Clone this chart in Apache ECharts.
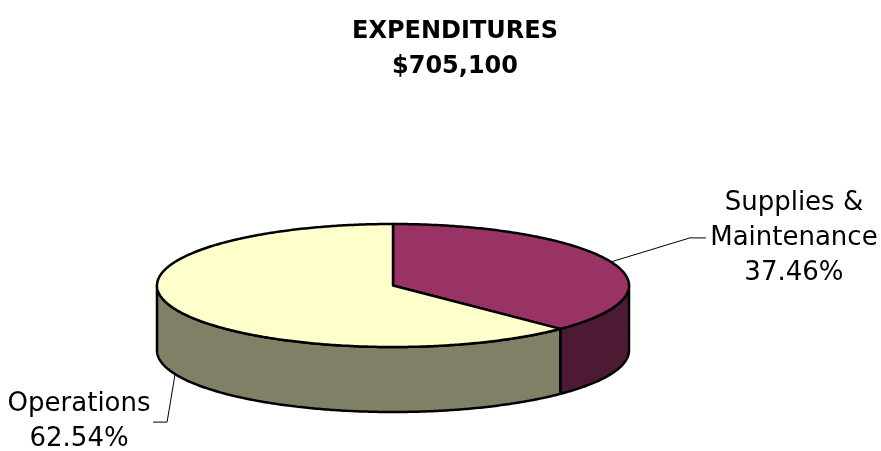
<!DOCTYPE html>
<html>
<head>
<meta charset="utf-8">
<script src="https://cdn.jsdelivr.net/npm/echarts@6/dist/echarts.min.js"></script>
<style>
html,body{margin:0;padding:0;background:#fff;}
#main{width:881px;height:451px;}
</style>
</head>
<body>
<div id="main"></div>
<script>
// ---- data ----
const categories = ['Supplies & Maintenance', 'Operations'];
const labelNames = ['Supplies &\nMaintenance', 'Operations'];
const values = [264130, 440970];
const titleText = 'EXPENDITURES';

// ---- styles / layout ----
const topColors = ['#993366', '#FFFFCC'];
const sideColors = ['#4D1A33', '#808066'];
const pieLayout = { cx: 393, cy: 285.5, rx: 236, ry: 61.5, depth: 65 };
// leader: [elbow dx, elbow dy, horizontal length, text center dx]
const leaderLayout = [[79, -24, 16, 88], [-8, 48, -14, -74]];

const total = values.reduce((a, b) => a + b, 0);
const fontFam = '"DejaVu Sans", sans-serif';

function pt(t, dy) {
  return [pieLayout.cx + pieLayout.rx * Math.sin(t),
          pieLayout.cy - pieLayout.ry * Math.cos(t) + (dy || 0)];
}
function arc(a, b, dy) {
  const pts = [];
  const n = Math.max(2, Math.ceil(Math.abs(b - a) / 0.01));
  for (let i = 0; i <= n; i++) pts.push(pt(a + (b - a) * i / n, dy));
  return pts;
}

function renderItem(params, api) {
  const idx = params.dataIndex;
  const v = api.value(0);
  let before = 0;
  for (let i = 0; i < idx; i++) before += values[i];
  const a0 = before / total * Math.PI * 2;
  const a1 = (before + v) / total * Math.PI * 2;
  const children = [];
  const stroke = { stroke: '#000', lineWidth: 2.5, lineJoin: 'round' };

  // side wall (front half only)
  const wa = Math.max(a0, Math.PI / 2), wb = Math.min(a1, Math.PI * 1.5);
  if (wb > wa) {
    const top = arc(wa, wb, 0);
    const bot = arc(wb, wa, pieLayout.depth);
    children.push({
      type: 'polygon',
      shape: { points: top.concat(bot) },
      style: Object.assign({ fill: sideColors[idx] }, stroke)
    });
  }
  // top face
  children.push({
    type: 'polygon',
    shape: { points: [[pieLayout.cx, pieLayout.cy]].concat(arc(a0, a1, 0)) },
    style: Object.assign({ fill: topColors[idx] }, stroke)
  });

  // label with leader line
  const mid = (a0 + a1) / 2;
  const front = mid > Math.PI / 2 && mid < Math.PI * 1.5;
  const anchor = pt(mid, front ? pieLayout.depth : 0);
  const L = leaderLayout[idx];
  const elbow = [anchor[0] + L[0], anchor[1] + L[1]];
  const end = [elbow[0] + L[2], elbow[1]];
  children.push({
    type: 'polyline',
    shape: { points: [anchor, elbow, end] },
    style: { stroke: '#000', lineWidth: 1, fill: null }
  });
  const pct = (v / total * 100).toFixed(2) + '%';
  children.push({
    type: 'text',
    x: end[0] + L[3],
    y: end[1],
    style: {
      text: labelNames[idx] + '\n' + pct,
      fontFamily: fontFam,
      fontSize: 26,
      lineHeight: 35,
      fill: '#000',
      align: 'center',
      verticalAlign: 'middle'
    }
  });
  return { type: 'group', children: children };
}

const chart = echarts.init(document.getElementById('main'));
chart.setOption({
  animation: false,
  backgroundColor: '#fff',
  title: {
    text: titleText + '\n$' + total.toLocaleString('en-US'),
    left: 450,
    top: 9,
    textAlign: 'center',
    textStyle: {
      fontFamily: fontFam,
      fontWeight: 'bold',
      fontSize: 24,
      lineHeight: 35,
      color: '#000'
    }
  },
  series: [{
    type: 'custom',
    coordinateSystem: 'none',
    renderItem: renderItem,
    data: categories.map((c, i) => ({ name: c, value: [values[i]] }))
  }]
});
</script>
</body>
</html>
